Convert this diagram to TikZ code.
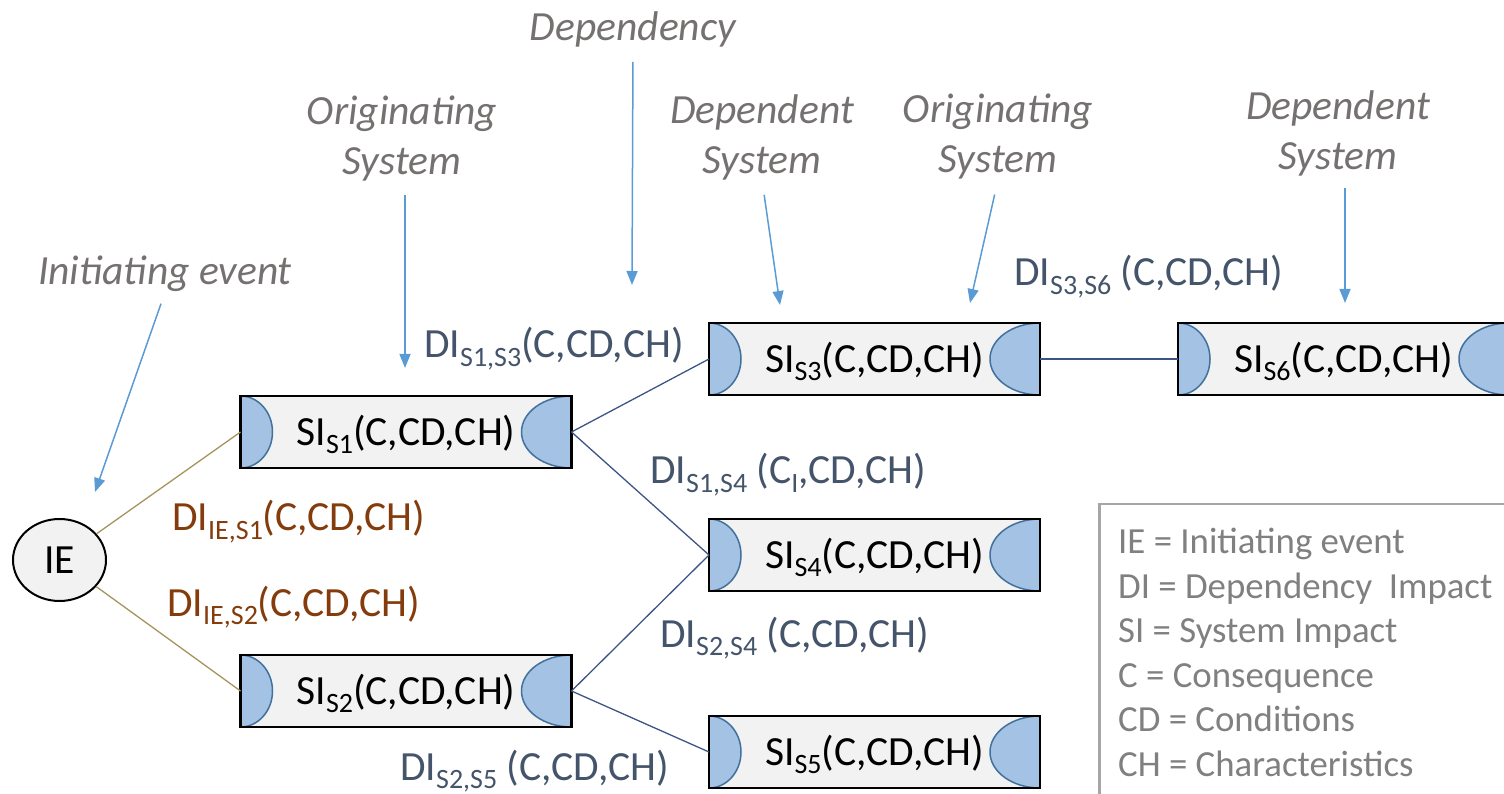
\documentclass[tikz,border=0pt]{standalone}
\usepackage{fontspec}
\setmainfont{Carlito}
\usetikzlibrary{arrows.meta,shapes.geometric}

\definecolor{boxgray}{HTML}{F2F2F2}
\definecolor{capblue}{HTML}{A4C2E3}
\definecolor{capedge}{HTML}{41719C}
\definecolor{linkblue}{HTML}{3D5585}
\definecolor{ietan}{HTML}{A8935E}
\definecolor{dislate}{HTML}{44546A}
\definecolor{iebrown}{HTML}{843C0C}
\definecolor{annotgray}{HTML}{767171}
\definecolor{pointblue}{HTML}{5B9BD5}
\definecolor{keygray}{HTML}{808080}
\definecolor{keyframe}{HTML}{A6A6A6}

% lowered small text used for the indices
\newcommand\lowsub[1]{\raisebox{-0.2em}{\fontsize{28}{28}\selectfont #1}}

\begin{document}
\begin{tikzpicture}[x=1pt,y=1pt,
  sysbox/.style={rectangle, draw=black, line width=2.5pt, fill=boxgray,
    minimum width=331pt, minimum height=72pt, inner sep=0pt, outer sep=0pt,
    text height=27pt, text depth=0pt, font=\fontsize{41.5}{50}\selectfont},
  capshape/.style={fill=capblue, draw=capedge, line width=1.5pt},
  link/.style={draw=linkblue, line width=1.3pt},
  ielink/.style={draw=ietan, line width=1.3pt},
  dilabel/.style={text=dislate, anchor=base west, inner sep=0pt,
    font=\fontsize{41.5}{50}\selectfont},
  ielabel/.style={dilabel, text=iebrown},
  annot/.style={text=annotgray, inner sep=0pt, align=center,
    font=\fontsize{41.5}{50}\selectfont\itshape},
  pointer/.style={draw=pointblue, line width=1.5pt,
    -{Triangle[length=14pt,width=11pt]}},
  keytext/.style={text=keygray, inner sep=0pt, align=left, anchor=north west,
    font=\fontsize{36.8}{44.5}\selectfont},
]
\useasboundingbox (0,0) rectangle (1504,793);
\clip (0,0) rectangle (1504,793);

% initiating event
\node[ellipse, draw=black, line width=2pt, fill=boxgray, minimum width=93pt,
  minimum height=82pt, inner sep=0pt, font=\fontsize{41.5}{50}\selectfont]
  (ie) at (59.5,233) {IE};

% system impact boxes
\node[sysbox] (s1) at (406,361) {SI\lowsub{S1}(C,CD,CH)};
\node[sysbox] (s2) at (406,102) {SI\lowsub{S2}(C,CD,CH)};
\node[sysbox] (s3) at (874.5,434) {SI\lowsub{S3}(C,CD,CH)};
\node[sysbox] (s4) at (874.5,238) {SI\lowsub{S4}(C,CD,CH)};
\node[sysbox] (s5) at (874.5,41) {SI\lowsub{S5}(C,CD,CH)};
\node[sysbox] (s6) at (1343.5,434) {SI\lowsub{S6}(C,CD,CH)};

% half-ellipse end caps, then the frame again on top
\foreach \n in {s1,s2,s3,s4,s5,s6} {
  \filldraw[capshape] (\n.north west)
    arc[start angle=90, end angle=-90, x radius=32, y radius=36] -- cycle;
  \filldraw[capshape] (\n.north east)
    arc[start angle=90, end angle=270, x radius=50, y radius=36] -- cycle;
  \draw[line width=2.5pt] (\n.south west) rectangle (\n.north east);
}

% dependency links
\draw[ielink] (ie) -- (s1.west);
\draw[ielink] (ie) -- (s2.west);
\draw[link] (s1.east) -- (s3.west);
\draw[link] (s1.east) -- (s4.west);
\draw[link] (s2.east) -- (s4.west);
\draw[link] (s2.east) -- (s5.west);
\draw[link] (s3.east) -- (s6.west);

% dependency impact labels
\node[ielabel] (lie1) at (172,262) {DI\lowsub{IE,S1}(C,CD,CH)};
\node[ielabel] (lie2) at (167,177) {DI\lowsub{IE,S2}(C,CD,CH)};
\node[dilabel] (l13) at (424,435) {DI\lowsub{S1,S3}(C,CD,CH)};
\node[dilabel] (l14) at (650,309) {DI\lowsub{S1,S4} (C\lowsub{I},CD,CH)};
\node[dilabel] (l24) at (660,146) {DI\lowsub{S2,S4} (C,CD,CH)};
\node[dilabel] (l25) at (400,13) {DI\lowsub{S2,S5} (C,CD,CH)};
\node[dilabel] (l36) at (1014,507) {DI\lowsub{S3,S6} (C,CD,CH)};

% annotations with pointers
\node[annot, anchor=base] (aie) at (165,508) {Initiating event};
\node[annot] (aorg1) at (402,654) {Originating\\System};
\node[annot, anchor=base] (adep) at (633,752) {Dependency};
\node[annot] (adsy1) at (762,656) {Dependent\\System};
\node[annot] (aorg2) at (998,656) {Originating\\System};
\node[annot] (adsy2) at (1338,660) {Dependent\\System};

\coordinate (tie) at (95,301);
\coordinate (torg1) at (405,425);
\coordinate (tdep) at (632,508);
\coordinate (tdsy1) at (780,488);
\coordinate (torg2) at (970,490);
\coordinate (tdsy2) at (1345,490);

\draw[pointer, shorten <=12pt] (aie.south) -- (tie);
\draw[pointer, shorten <=13pt] (torg1 |- aorg1.south) -- (torg1);
\draw[pointer, shorten <=14pt] (adep.south) -- (tdep);
\draw[pointer, shorten <=15pt] (adsy1.south) -- (tdsy1);
\draw[pointer, shorten <=15pt] (aorg2.south) -- (torg2);
\draw[pointer, shorten <=12pt] (tdsy2 |- adsy2.south) -- (tdsy2);

% key
\node[draw=keyframe, line width=2.5pt, anchor=north west, minimum width=440pt,
  minimum height=320pt, inner sep=0pt] (key) at (1098,290) {};
\node[keytext] (keylines) at (1118,265) {IE = Initiating event\\
  DI = Dependency\ \ Impact\\
  SI = System Impact\\
  C = Consequence\\
  CD = Conditions\\
  CH = Characteristics};
\end{tikzpicture}
\end{document}
